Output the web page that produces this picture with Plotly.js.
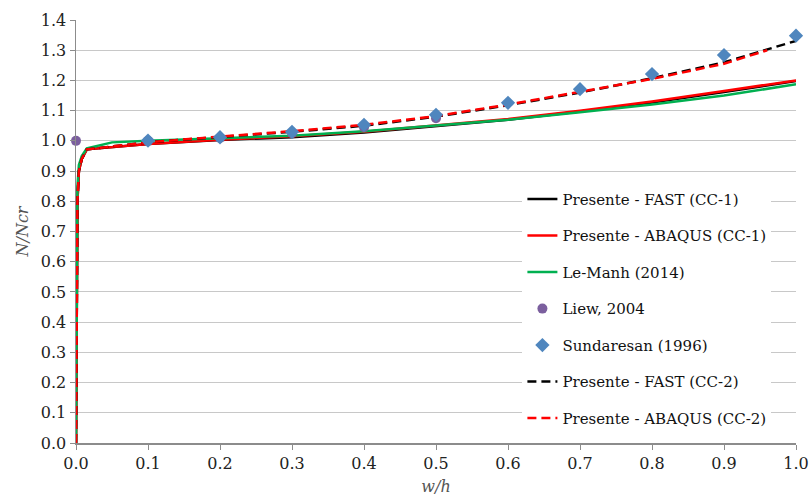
<!DOCTYPE html>
<html>
<head>
<meta charset="utf-8">
<script src="https://cdn.plot.ly/plotly-3.0.1.min.js"></script>
<style>html,body{margin:0;padding:0;background:#fff;}#chart{width:812px;height:500px;}</style>
</head>
<body>
<div id="chart"></div>
<script>
// Shared x positions for curves
const curveX = [0, 0.001, 0.002, 0.004, 0.008, 0.015, 0.05, 0.1, 0.2, 0.3, 0.4, 0.5, 0.6, 0.7, 0.8, 0.9, 1.0];
const fastCC1 = [0, 0.5, 0.8, 0.9, 0.94, 0.972, 0.98, 0.99, 1.003, 1.012, 1.028, 1.048, 1.07, 1.097, 1.127, 1.162, 1.198];
const abaqusCC1 = [0, 0.5, 0.8, 0.9, 0.94, 0.972, 0.98, 0.99, 1.004, 1.015, 1.03, 1.05, 1.072, 1.10, 1.13, 1.165, 1.20];
const leManh = [0, 0.5, 0.85, 0.92, 0.95, 0.975, 0.995, 1.0, 1.008, 1.017, 1.032, 1.05, 1.07, 1.095, 1.12, 1.15, 1.187];
const fastCC2 = [0, 0.5, 0.8, 0.9, 0.94, 0.972, 0.982, 0.995, 1.013, 1.03, 1.05, 1.08, 1.118, 1.16, 1.207, 1.26, 1.331];
const abaqusCC2X = [0, 0.001, 0.002, 0.004, 0.008, 0.015, 0.05, 0.1, 0.2, 0.3, 0.4, 0.5, 0.6, 0.7, 0.8, 0.9, 0.96];
const abaqusCC2 = [0, 0.5, 0.8, 0.9, 0.94, 0.972, 0.982, 0.995, 1.014, 1.032, 1.053, 1.082, 1.12, 1.162, 1.205, 1.255, 1.30];
const liewX = [0, 0.1, 0.2, 0.3, 0.4, 0.5];
const liewY = [1.0, 1.0, 1.01, 1.025, 1.045, 1.075];
const sundX = [0.1, 0.2, 0.3, 0.4, 0.5, 0.6, 0.7, 0.8, 0.9, 1.0];
const sundY = [1.001, 1.012, 1.030, 1.053, 1.086, 1.126, 1.171, 1.221, 1.284, 1.348];
const names = ["Presente - FAST (CC-1)", "Presente - ABAQUS (CC-1)", "Le-Manh (2014)", "Liew, 2004", "Sundaresan (1996)", "Presente - FAST (CC-2)", "Presente - ABAQUS (CC-2)"];

const font = "DejaVu Serif, serif";
const traces = [
  {x: curveX, y: fastCC1, name: names[0], mode: "lines", line: {color: "#000000", width: 2.5}, legendgroup: "g1", legendrank: 1},
  {x: curveX, y: abaqusCC1, name: names[1], mode: "lines", line: {color: "#FF0000", width: 2.5}, legendgroup: "g2", legendrank: 2},
  {x: curveX, y: leManh, name: names[2], mode: "lines", line: {color: "#00B050", width: 2.5}, legendgroup: "g3", legendrank: 3},
  {x: curveX, y: fastCC2, name: names[5], mode: "lines", line: {color: "#000000", width: 2.5, dash: "9px,5px"}, legendgroup: "g6", legendrank: 6},
  {x: abaqusCC2X, y: abaqusCC2, name: names[6], mode: "lines", line: {color: "#FF0000", width: 2.5, dash: "9px,5px"}, legendgroup: "g7", legendrank: 7},
  {x: liewX, y: liewY, name: names[3], mode: "markers", marker: {color: "#7B5F9E", size: 10, symbol: "circle"}, cliponaxis: false, legendgroup: "g4", legendrank: 4},
  {x: sundX, y: sundY, name: names[4], mode: "markers", marker: {color: "#4F86BE", size: 11, symbol: "diamond"}, cliponaxis: false, legendgroup: "g5", legendrank: 5}
];

const layout = {
  width: 812, height: 500,
  margin: {l: 76, r: 16, t: 20, b: 57},
  paper_bgcolor: "#fff", plot_bgcolor: "#fff",
  font: {family: font, size: 16, color: "#222"},
  showlegend: true,
  legend: {x: 0.62, y: 0.615, xanchor: "left", yanchor: "top", bgcolor: "#fff", borderwidth: 0,
           font: {family: font, size: 15, color: "#111"}, traceorder: "grouped", tracegroupgap: 14, itemwidth: 30},
  xaxis: {range: [0, 1.0], dtick: 0.1, tick0: 0, tickformat: ".1f", showgrid: false, zeroline: false,
          showline: true, linecolor: "#8c8c8c", linewidth: 1.5, ticks: "outside", ticklen: 5, tickcolor: "#8c8c8c",
          tickfont: {family: font, size: 16, color: "#222"},
          title: {text: "<i>w/h</i>", font: {family: font, size: 16, color: "#555"}, standoff: 9}},
  yaxis: {range: [0, 1.4], dtick: 0.1, tick0: 0, tickformat: ".1f", showgrid: true, gridcolor: "#c8c8c8", gridwidth: 1,
          zeroline: false, showline: true, linecolor: "#8c8c8c", linewidth: 1.5, ticks: "outside", ticklen: 5, tickcolor: "#8c8c8c",
          tickfont: {family: font, size: 16, color: "#222"},
          title: {text: "<i>N/Ncr</i>", font: {family: font, size: 16, color: "#555"}, standoff: 8}}
};

Plotly.newPlot("chart", traces, layout, {displayModeBar: false, staticPlot: true});
</script>
</body>
</html>
